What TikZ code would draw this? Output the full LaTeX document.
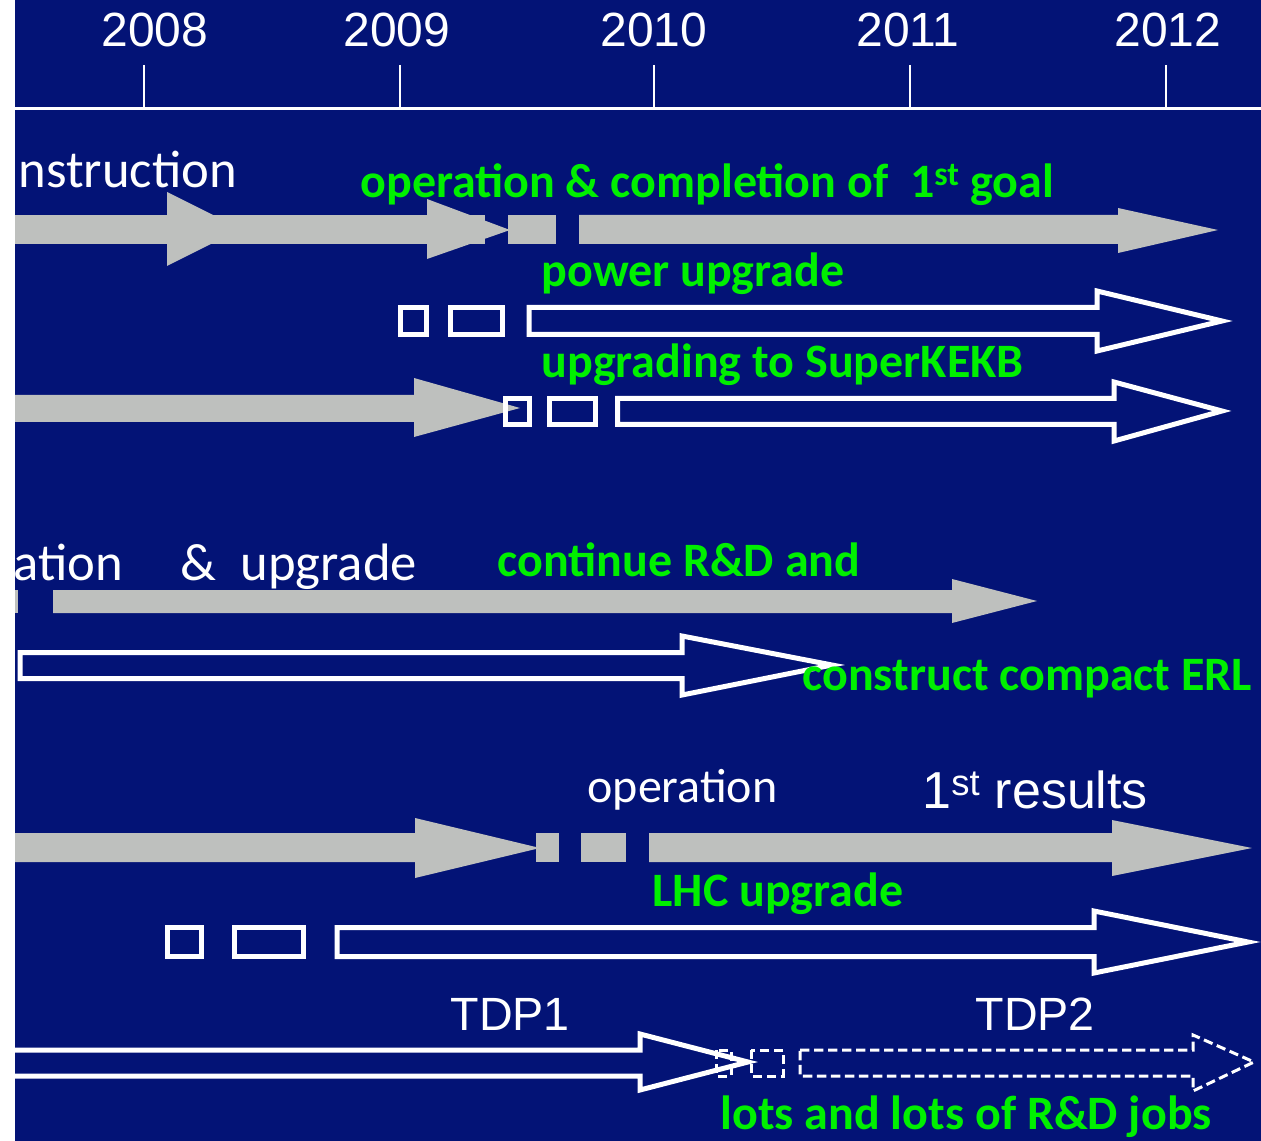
\documentclass[tikz,border=0pt]{standalone}
\usepackage{fontspec}
\setmainfont{Carlito}
\newfontfamily\arialfont{Liberation Sans}
\definecolor{slideblue}{RGB}{3,19,118}
\definecolor{bargray}{RGB}{190,192,190}
\definecolor{labelgreen}{RGB}{0,240,0}
\tikzset{every picture/.style={line width=0.75pt}}

\begin{document}
\begin{tikzpicture}[x=0.75pt,y=0.75pt,yscale=-1,xscale=1,
  graybar/.style={fill=bargray,draw=none},
  hollowbar/.style={draw=white,line width=3.75pt,miter limit=20},
  dashbar/.style={draw=white,line width=2.25pt,dash pattern=on 7pt off 3.5pt},
  greentxt/.style={anchor=base west,inner sep=0pt,text=labelgreen,font=\fontsize{36}{40}\selectfont\bfseries},
  whitetxt/.style={anchor=base west,inner sep=0pt,text=white,font=\fontsize{39.5}{44}\selectfont},
  arialtxt/.style={anchor=base west,inner sep=0pt,text=white,font=\arialfont\fontsize{35}{40}\selectfont},
  yeartxt/.style={anchor=base,inner sep=0pt,text=white,font=\arialfont\fontsize{36}{40}\selectfont}]
\useasboundingbox (0,0) rectangle (1261,1141);

%Shape: Background
\fill [white] (0,0) rectangle (1261,1141) ;
\fill [slideblue] (15,0) rectangle (1261,1141) ;

%Shape: Time axis
\draw [white,line width=2.25pt] (15,109) -- (1261,109) ;
\draw [white,line width=1.5pt] (144,65) -- (144,109) ;
\draw [white,line width=1.5pt] (400,65) -- (400,109) ;
\draw [white,line width=1.5pt] (654,65) -- (654,109) ;
\draw [white,line width=1.5pt] (910,65) -- (910,109) ;
\draw [white,line width=1.5pt] (1166,65) -- (1166,109) ;

% Text Node
\node [yeartxt] (y2008) at (155,47) {2008};
% Text Node
\node [yeartxt] (y2009) at (397,47) {2009};
% Text Node
\node [yeartxt] (y2010) at (654,47) {2010};
% Text Node
\node [yeartxt] (y2011) at (908,47) {2011};
% Text Node
\node [yeartxt] (y2012) at (1168,47) {2012};

%Shape: Row 1 gray arrows
\fill [graybar] (15,215) rectangle (485,244) ;
\fill [graybar] (167,192) -- (241,229) -- (167,266) -- cycle ;
\fill [graybar] (427,199) -- (510,230) -- (427,259) -- cycle ;
\fill [graybar] (508,215) rectangle (556,244) ;
\fill [graybar] (579,215) -- (1118,215) -- (1118,208) -- (1218,230) -- (1118,253) -- (1118,244) -- (579,244) -- cycle ;

% Text Node
\node [whitetxt] (constr) at (18,188) {nstruction};
% Text Node
\node [greentxt] (opgoal) at (360,198) {operation \& completion of~ 1\textsuperscript{st} goal};

%Shape: Row 2 hollow arrow
\draw [hollowbar] (400,307.5) rectangle (426,334.5) ;
\draw [hollowbar] (450.5,307.5) rectangle (502.5,334.5) ;
\draw [hollowbar] (529,307.5) -- (1097,307.5) -- (1097,291) -- (1222,321) -- (1097,351) -- (1097,334.5) -- (529,334.5) -- cycle ;

% Text Node
\node [greentxt] (power) at (541,287) {power upgrade};

%Shape: Row 3 gray arrow and hollow arrow
\fill [graybar] (15,395) -- (414,395) -- (414,378) -- (520,408) -- (414,437) -- (414,422) -- (15,422) -- cycle ;
\draw [hollowbar] (505.5,398.5) rectangle (529.5,424.5) ;
\draw [hollowbar] (549.5,398.5) rectangle (595.5,424.5) ;
\draw [hollowbar] (617.5,398.5) -- (1114,398.5) -- (1114,382) -- (1222,411) -- (1114,441) -- (1114,424.5) -- (617.5,424.5) -- cycle ;

% Text Node
\node [greentxt] (superkekb) at (541,378) {upgrading to SuperKEKB};

%Shape: Row 4 gray arrow
\fill [graybar] (15,590) rectangle (18,613) ;
\fill [graybar] (53,590) -- (952,590) -- (952,579) -- (1037,601) -- (952,623) -- (952,613) -- (53,613) -- cycle ;

% Text Node
\node [whitetxt] (ation) at (13,580) {ation};
% Text Node
\node [whitetxt] (amp) at (180,580) {\&};
% Text Node
\node [whitetxt] (upgr) at (240,580) {upgrade};
% Text Node
\node [greentxt] (contrd) at (497,576) {continue R\&D and};

%Shape: Row 5 hollow arrow
\draw [hollowbar] (20,652.5) -- (682,652.5) -- (682,636) -- (832,665) -- (682,695) -- (682,678.5) -- (20,678.5) -- cycle ;

% Text Node
\node [greentxt] (erl) at (802,690) {construct compact ERL};

%Shape: Row 6 gray arrows
\fill [graybar] (15,833) -- (415,833) -- (415,818) -- (540,848) -- (415,878) -- (415,862) -- (15,862) -- cycle ;
\fill [graybar] (536,833) rectangle (559,862) ;
\fill [graybar] (581,833) rectangle (626,862) ;
\fill [graybar] (649,833) -- (1112,833) -- (1112,820) -- (1252,848) -- (1112,876) -- (1112,862) -- (649,862) -- cycle ;

% Text Node
\node [whitetxt,font=\fontsize{36}{40}\selectfont] (oper) at (587,802) {operation};
% Text Node
\node [arialtxt,font=\arialfont\fontsize{39}{44}\selectfont] (results) at (922,808) {1\textsuperscript{st} results};

%Shape: Row 7 hollow arrow
\draw [hollowbar] (167,927.5) rectangle (201,956.5) ;
\draw [hollowbar] (234.5,927.5) rectangle (303.5,956.5) ;
\draw [hollowbar] (337,927.5) -- (1094,927.5) -- (1094,911) -- (1248,942) -- (1094,973) -- (1094,956.5) -- (337,956.5) -- cycle ;

% Text Node
\node [greentxt] (lhc) at (652,906) {LHC upgrade};

%Shape: Row 8 hollow arrow and dashed arrow
\draw [hollowbar] (12,1050) -- (640,1050) -- (640,1034) -- (748,1062) -- (640,1090) -- (640,1076) -- (12,1076) -- cycle ;
\draw [dashbar] (716,1050) rectangle (731,1076) ;
\draw [dashbar] (751,1050) rectangle (783,1076) ;
\draw [dashbar] (800,1050) -- (1193,1050) -- (1193,1035) -- (1254,1062) -- (1193,1091) -- (1193,1076) -- (800,1076) -- cycle ;

% Text Node
\node [arialtxt] (tdp1) at (450,1030) {TDP1};
% Text Node
\node [arialtxt] (tdp2) at (975,1030) {TDP2};
% Text Node
\node [greentxt] (rdjobs) at (720,1129) {lots and lots of R\&D jobs};

\end{tikzpicture}
\end{document}
